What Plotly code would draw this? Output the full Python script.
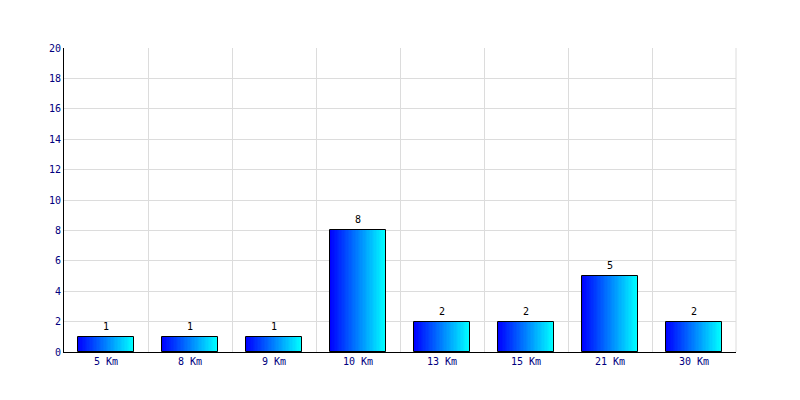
import plotly.graph_objects as go

categories = ["5 Km", "8 Km", "9 Km", "10 Km", "13 Km", "15 Km", "21 Km", "30 Km"]
values = [1, 1, 1, 8, 2, 2, 5, 2]
y_ticks = [0, 2, 4, 6, 8, 10, 12, 14, 16, 18, 20]

BAR_W = 56 / 84
N = 40
FONT = "DejaVu Sans Mono"

fig = go.Figure()
slice_w = BAR_W / N
for i in range(N):
    t = i / (N - 1)
    g = int(round(255 * t))
    fig.add_trace(go.Bar(
        x=categories, y=values,
        width=slice_w * 1.15, offset=-BAR_W / 2 + i * slice_w,
        marker=dict(color=f"rgb(0,{g},255)", line=dict(width=0)),
        hoverinfo="skip", showlegend=False,
    ))

fig.add_trace(go.Bar(
    x=categories, y=values, width=BAR_W,
    marker=dict(color="rgba(0,0,0,0)", line=dict(color="black", width=1)),
    hoverinfo="skip", showlegend=False,
))

for c, v in zip(categories, values):
    fig.add_annotation(
        x=c, y=v, text=str(v), showarrow=False, yanchor="bottom", yshift=3,
        font=dict(family=FONT, size=10, color="black"),
    )

fig.add_shape(type="line", xref="paper", yref="paper", x0=1, x1=1, y0=0, y1=1,
              line=dict(color="#dcdcdc", width=1), layer="below")

fig.update_layout(
    width=800, height=400,
    margin=dict(l=56, r=72, t=40, b=56),
    paper_bgcolor="white", plot_bgcolor="white",
    barmode="overlay", bargap=0,
    font=dict(family=FONT, size=10, color="#000080"),
    xaxis=dict(
        type="category", tickson="boundaries", showgrid=True,
        gridcolor="#dcdcdc", gridwidth=1, ticks="", showline=True,
        linecolor="black", linewidth=1,
        tickfont=dict(family=FONT, size=10, color="#000080"),
    ),
    yaxis=dict(
        range=[0, 20], tickvals=y_ticks, showgrid=True,
        gridcolor="#dcdcdc", gridwidth=1, showline=True,
        linecolor="black", linewidth=1, zeroline=False, ticks="",
        tickfont=dict(family=FONT, size=10, color="#000080"),
    ),
)

fig.write_html("out.html")
